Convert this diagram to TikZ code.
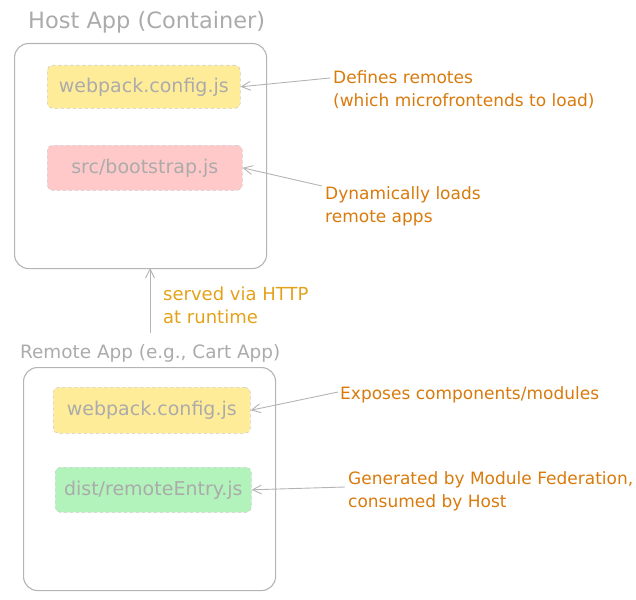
\documentclass[tikz,border=0pt]{standalone}
\usepackage{fontspec}
\setmainfont{DejaVu Sans}
\usetikzlibrary{arrows.meta}
\definecolor{frame}{HTML}{B4B4B4}
\definecolor{boxtext}{HTML}{ABABAB}
\definecolor{ornge}{HTML}{D97A0C}
\definecolor{gold}{HTML}{E3A21A}
\definecolor{yel}{HTML}{FFEC99}
\definecolor{pnk}{HTML}{FFC9C9}
\definecolor{grn}{HTML}{B2F2BB}
\tikzset{
  container/.style={draw=frame, line width=1.1pt, rounded corners=14pt, inner sep=0pt},
  filebox/.style={draw=frame!70, dashed, line width=0.6pt, rounded corners=5pt, inner sep=0pt, text=boxtext, font=\fontsize{19}{21}\selectfont},
  title/.style={text=boxtext, anchor=west, inner sep=0pt},
  note/.style={text=ornge, font=\fontsize{17}{23}\selectfont, anchor=north west, align=left, inner sep=0pt},
  conn/.style={draw=frame, line width=0.9pt, -{Straight Barb[length=9pt,width=9pt]}},
}
\begin{document}
\begin{tikzpicture}[x=1pt,y=-1pt]
\useasboundingbox (0,0) rectangle (636,599);
% Host
\node[title, font=\fontsize{22.5}{24}\selectfont] (hosttitle) at (28,22) {Host App (Container)};
\node[container, minimum width=252pt, minimum height=225pt, anchor=north west] (host) at (14,43) {};
\node[filebox, fill=yel, minimum width=193pt, minimum height=43pt, anchor=north west] (hwp) at (47,65) {webpack.config.js};
\node[filebox, fill=pnk, minimum width=195pt, minimum height=45pt, anchor=north west] (hbs) at (47,145) {src/bootstrap.js};
\node[note] (n1) at (333,70) {Defines remotes\\(which microfrontends to load)};
\node[note] (n2) at (325,186) {Dynamically loads\\remote apps};
\coordinate (n1s) at (330,78);
\coordinate (n2s) at (322,186);
\draw[conn] (n1s) -- (hwp.east);
\draw[conn] (n2s) -- (hbs.east);
% Remote
\node[title, font=\fontsize{18.4}{20}\selectfont] (remtitle) at (20,353) {Remote App (e.g., Cart App)};
\node[container, minimum width=252pt, minimum height=223pt, anchor=north west] (rem) at (23,367) {};
\node[filebox, fill=yel, minimum width=197pt, minimum height=46pt, anchor=north west] (rwp) at (53,387) {webpack.config.js};
\node[filebox, fill=grn, minimum width=196pt, minimum height=45pt, anchor=north west] (rde) at (55,467) {dist/remoteEntry.js};
\node[note] (n3) at (340,386) {Exposes components/modules};
\node[note] (n4) at (348,471) {Generated by Module Federation,\\consumed by Host};
\coordinate (n3s) at (338,392);
\coordinate (n4s) at (345,487);
\draw[conn] (n3s) -- (rwp.east);
\draw[conn] (n4s) -- (rde.east);
% HTTP
\coordinate (hs) at (150,333);
\draw[conn] (hs) -- (150,268) coordinate (he);
\node[note, text=gold, font=\fontsize{18}{23}\selectfont] (n5) at (163,287) {served via HTTP\\at runtime};
\end{tikzpicture}
\end{document}
